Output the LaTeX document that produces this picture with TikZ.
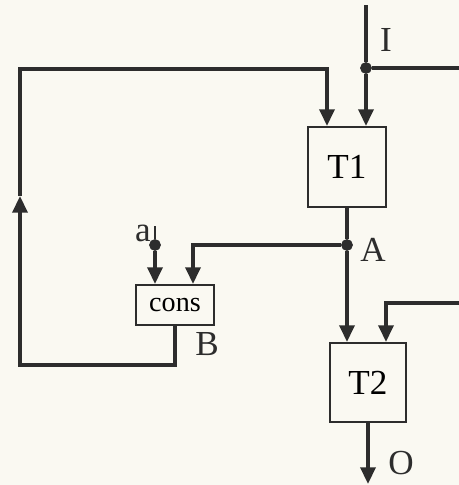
\documentclass[tikz,border=0pt]{standalone}
\usepackage{fontspec}
\setmainfont{Liberation Serif}
\usetikzlibrary{arrows.meta}
\definecolor{paper}{RGB}{250,249,242}
\definecolor{ink}{RGB}{45,45,45}
\tikzset{
    >={Triangle[width=8.5pt,length=9.5pt]} % Default arrow tip
}
\tikzstyle{unit}=[
    draw = ink,
    line width = 1.2pt,
    rectangle,
    inner sep = 0pt,
    font = \fontsize{20}{24}\selectfont
]
\tikzstyle{tap}=[
    draw = ink,
    circle,
    fill = ink,
    inner sep = 0pt,
    minimum size = 0.22cm
]
\tikzstyle{wire}=[ink, line width = 2pt]
\tikzstyle{lbl}=[text = ink, inner sep = 0pt, font = \fontsize{20}{24}\selectfont]

\begin{document}
\begin{tikzpicture}[x=0.02cm, y=-0.02cm]
    \fill[paper] (0,0) rectangle (459,485);
    \useasboundingbox (0,0) rectangle (459,485);

    % boxes
    \node[unit, minimum width=1.56cm, minimum height=1.6cm] (t1) at (347,167) {T1};
    \node[unit, minimum width=1.52cm, minimum height=1.58cm] (t2) at (368,382.5) {T2};
    \node[unit, minimum width=1.56cm, minimum height=0.8cm,
          font=\fontsize{16}{18}\selectfont] (cons) at (175,305) {cons};

    % taps
    \node[tap] (itap) at (366,68) {};
    \node[tap] (atap) at (347,245) {};
    \node[tap] (ctap) at (155,245) {};

    % free ends
    \coordinate (itop) at (366,5);
    \coordinate (iright) at (459,68);
    \coordinate (rin) at (459,303);
    \coordinate (atop) at (155,226);
    \coordinate (fbl) at (20,365);
    \coordinate (fbmid) at (20,196);
    \coordinate (fbt) at (20,69);

    % labels
    \node[lbl] (ilbl) at (386,40) {I};
    \node[lbl] (albl) at (373,250) {A};
    \node[lbl] (blbl) at (207,344) {B};
    \node[lbl] (olbl) at (401,463) {O};
    \node[lbl] (clbl) at (143,233) {a};

    % input I
    \draw[wire] (itop) -- (itap);
    \draw[wire, ->] (itap) -- (itap |- t1.north);
    \draw[wire] (itap) -- (iright);

    % T1 to A and on to T2
    \draw[wire] (t1.south) -- (atap);
    \draw[wire, ->] (atap) -- (atap |- t2.north);
    \draw[wire, ->] (rin) -| (t2.north -| 386,0);
    \draw[wire, ->] (t2.south) -- (t2.south |- 0,484);

    % into cons
    \draw[ink, line width=0.8pt] (atop) -- (ctap);
    \draw[wire, ->] (ctap) -- (ctap |- cons.north);
    \draw[wire, ->] (atap) -| (cons.north -| 193,0);

    % feedback B
    \draw[wire, ->] (cons.south) |- (fbl) -- (fbmid);
    \draw[wire, ->] (fbmid) -- (fbt) -| (t1.north -| 327,0);
\end{tikzpicture}
\end{document}
